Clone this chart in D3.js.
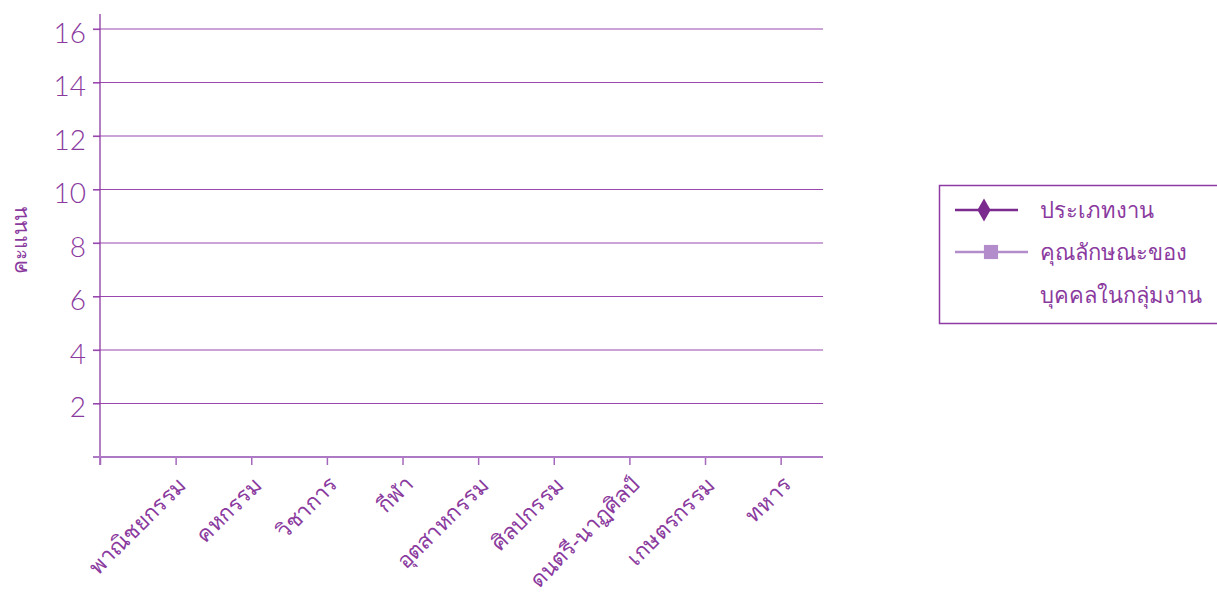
<!DOCTYPE html>
<html>
<head>
<meta charset="utf-8">
<script src="https://cdn.jsdelivr.net/npm/d3@7"></script>
<style>
  body { margin: 0; background: #fff; }
  svg { display: block; }
  text { fill: #8a3a9e; }
</style>
</head>
<body>
<div id="chart"></div>
<script>
const categories = ['พาณิชยกรรม', 'คหกรรม', 'วิชาการ', 'กีฬา', 'อุตสาหกรรม', 'ศิลปกรรม', 'ดนตรี-นาฏศิลป์', 'เกษตรกรรม', 'ทหาร'];
// no values are plotted in the picture
const workType = [null, null, null, null, null, null, null, null, null];
const traits = [null, null, null, null, null, null, null, null, null];
const yTicks = [2, 4, 6, 8, 10, 12, 14, 16];
const seriesNames = ['ประเภทงาน', ['คุณลักษณะของ', 'บุคคลในกลุ่มงาน']];

const width = 1217;
const height = 593;
const plot = { left: 100, right: 823, top: 14, bottom: 457 };

const svg = d3.select('#chart')
  .append('svg')
  .attr('width', width)
  .attr('height', height);

const xScale = d3.scaleLinear().domain([0, 9.56]).range([plot.left, plot.right]);
const yScale = d3.scaleLinear().domain([0, 16]).range([plot.bottom, 29]);

// gridlines
svg.append('g')
  .selectAll('line')
  .data(yTicks)
  .join('line')
  .attr('x1', plot.left - 7)
  .attr('x2', plot.right)
  .attr('y1', d => yScale(d))
  .attr('y2', d => yScale(d))
  .attr('stroke', '#9a48b0')
  .attr('stroke-width', 1.2);

// y axis
const yAxis = svg.append('g')
  .attr('transform', `translate(${plot.left}, 0)`)
  .call(d3.axisLeft(yScale).tickValues(yTicks).tickSize(7).tickPadding(7));
yAxis.select('.domain').remove();
yAxis.selectAll('line').attr('stroke', '#9a48b0').attr('stroke-width', 1.2);
yAxis.selectAll('text')
  .attr('font-family', 'Lato, "Open Sans", sans-serif')
  .attr('font-weight', 300)
  .attr('font-size', 28)
  .attr('dy', '0.48em')
  .attr('fill', '#8e44a4');

svg.append('line')
  .attr('x1', plot.left).attr('x2', plot.left)
  .attr('y1', plot.top).attr('y2', plot.bottom + 8)
  .attr('stroke', '#8e3aa4')
  .attr('stroke-width', 1.3);

// x axis
const xAxis = svg.append('g')
  .attr('transform', `translate(0, ${plot.bottom})`)
  .call(d3.axisBottom(xScale)
    .tickValues(d3.range(0, 10))
    .tickSize(8)
    .tickFormat(''));
xAxis.select('.domain').remove();
xAxis.selectAll('line').attr('stroke', '#a468bc').attr('stroke-width', 1.5);

svg.append('line')
  .attr('x1', plot.left - 7).attr('x2', plot.right)
  .attr('y1', plot.bottom).attr('y2', plot.bottom)
  .attr('stroke', '#ad78c4')
  .attr('stroke-width', 1.8);

svg.append('g')
  .selectAll('text')
  .data(categories)
  .join('text')
  .attr('transform', (d, i) => `translate(${xScale(i + 1) + 12}, ${plot.bottom + 29}) rotate(-45)`)
  .attr('text-anchor', 'end')
  .attr('font-family', '"Noto Sans", sans-serif')
  .attr('font-size', 22)
  .attr('fill', '#8a329e')
  .text(d => d);

// y axis title
svg.append('text')
  .attr('transform', 'translate(27, 240) rotate(-90)')
  .attr('text-anchor', 'middle')
  .attr('font-family', '"Noto Sans", sans-serif')
  .attr('font-size', 21)
  .attr('fill', '#9a48b0')
  .text('คะแนน');

// series (nothing defined, so no marks appear)
const line = d3.line()
  .defined(d => d != null)
  .x((d, i) => xScale(i + 1))
  .y(d => yScale(d));

const series = [
  { values: workType, color: '#7b2a8e', symbol: d3.symbolDiamond },
  { values: traits, color: '#b28ccb', symbol: d3.symbolSquare },
];

series.forEach(s => {
  svg.append('path')
    .datum(s.values)
    .attr('fill', 'none')
    .attr('stroke', s.color)
    .attr('stroke-width', 2)
    .attr('d', line);
  svg.append('g')
    .selectAll('path')
    .data(s.values.map((v, i) => ({ v, i })).filter(d => d.v != null))
    .join('path')
    .attr('transform', d => `translate(${xScale(d.i + 1)}, ${yScale(d.v)})`)
    .attr('d', d3.symbol(s.symbol, 120))
    .attr('fill', s.color);
});

// legend
const legend = svg.append('g');
legend.append('rect')
  .attr('x', 939.5).attr('y', 185.5)
  .attr('width', 290).attr('height', 138)
  .attr('fill', 'none')
  .attr('stroke', '#8e3aa4')
  .attr('stroke-width', 1.5);

legend.append('line')
  .attr('x1', 955).attr('x2', 1018).attr('y1', 210).attr('y2', 210)
  .attr('stroke', series[0].color).attr('stroke-width', 2.5);
legend.append('path')
  .attr('transform', 'translate(984, 210)')
  .attr('d', d3.symbol(d3.symbolDiamond, 150))
  .attr('fill', series[0].color);

legend.append('line')
  .attr('x1', 955).attr('x2', 1028).attr('y1', 252).attr('y2', 252)
  .attr('stroke', series[1].color).attr('stroke-width', 2.5);
legend.append('path')
  .attr('transform', 'translate(991, 252)')
  .attr('d', d3.symbol(d3.symbolSquare, 200))
  .attr('fill', series[1].color);

legend.append('text')
  .attr('x', 1040).attr('y', 218)
  .attr('font-family', '"Noto Sans", sans-serif')
  .attr('font-size', 22)
  .attr('fill', '#8a329e')
  .text(seriesNames[0]);

legend.append('text')
  .attr('font-family', '"Noto Sans", sans-serif')
  .attr('font-size', 22)
  .attr('fill', '#8a329e')
  .selectAll('tspan')
  .data(seriesNames[1])
  .join('tspan')
  .attr('x', 1040)
  .attr('y', (d, i) => 260 + i * 43)
  .text(d => d);
</script>
</body>
</html>
